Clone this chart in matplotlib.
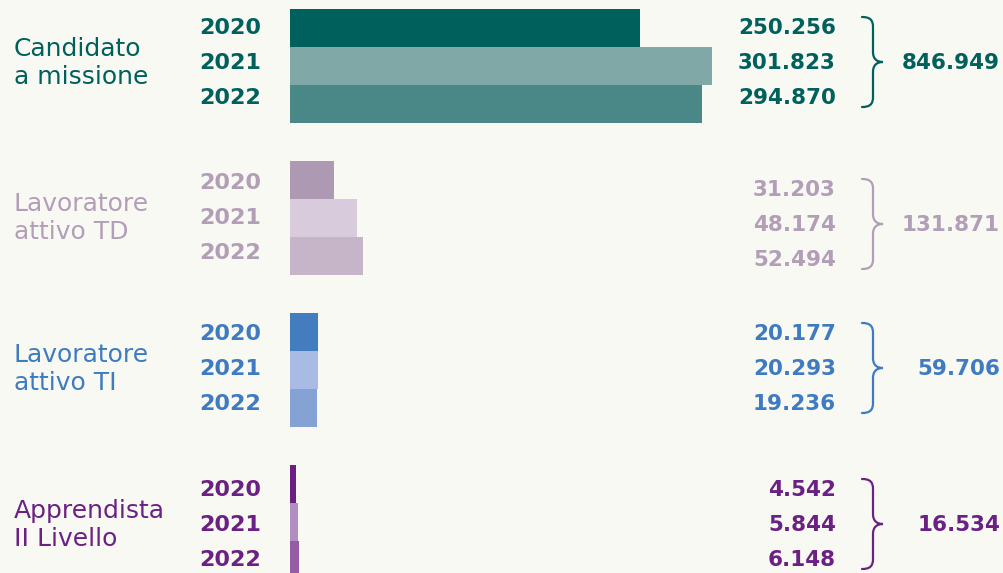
import matplotlib
matplotlib.use('Agg')
import matplotlib.pyplot as plt
from matplotlib.path import Path
from matplotlib.patches import PathPatch

categories = ['Candidato\na missione', 'Lavoratore\nattivo TD', 'Lavoratore\nattivo TI', 'Apprendista\nII Livello']
years = ['2020', '2021', '2022']
values = [
    [250.256, 301.823, 294.870],
    [31.203, 48.174, 52.494],
    [20.177, 20.293, 19.236],
    [4.542, 5.844, 6.148],
]
value_labels = [
    ['250.256', '301.823', '294.870'],
    ['31.203', '48.174', '52.494'],
    ['20.177', '20.293', '19.236'],
    ['4.542', '5.844', '6.148'],
]
totals = ['846.949', '131.871', '59.706', '16.534']

text_colors = ['#00605c', '#b29fb7', '#3f7bc0', '#6b2183']
bar_colors = [
    ['#00605c', '#80a8a7', '#4a8787'],
    ['#ae99b2', '#d8ccdc', '#c6b5c9'],
    ['#447dbf', '#a9bbe2', '#85a2d5'],
    ['#6b1f82', '#b28dc1', '#935ca5'],
]

BG = '#f9f9f4'
W, H = 1004, 573
fig = plt.figure(figsize=(W / 100, H / 100), dpi=100)
fig.patch.set_facecolor(BG)

# bar axes: value 0 at x=290px, ~1.4 px per thousand; rows are 38px tall
px_per_k = 1.3986
row_px = 38
ax = fig.add_axes([0, 0, 1, 1])
ax.set_xlim(-290 / px_per_k, (W - 290) / px_per_k)
ax.set_ylim((H - 28) / row_px, -28 / row_px)
ax.axis('off')
ax.set_facecolor(BG)

for g in range(len(categories)):
    for j in range(len(years)):
        ax.barh(4 * g + j, values[g][j], height=1.0, color=bar_colors[g][j], linewidth=0)

# overlay in pixel coords for labels and braces
ov = fig.add_axes([0, 0, 1, 1], facecolor='none')
ov.set_xlim(0, W)
ov.set_ylim(H, 0)
ov.axis('off')

font = 'DejaVu Sans'
year_center = [63, 218, 369, 525]
val_center = [63, 225, 369, 525]
step = 35

def brace(cy, x0=862, half=45, color='k'):
    top, bot = cy - half, cy + half
    verts = [
        (x0, top),
        (x0 + 8, top), (x0 + 11, top + 3), (x0 + 11, top + 10),
        (x0 + 11, cy - 10),
        (x0 + 11, cy - 3), (x0 + 15, cy), (x0 + 21, cy),
        (x0 + 15, cy), (x0 + 11, cy + 3), (x0 + 11, cy + 10),
        (x0 + 11, bot - 10),
        (x0 + 11, bot - 3), (x0 + 8, bot), (x0, bot),
    ]
    codes = [Path.MOVETO] + [Path.CURVE4] * 3 + [Path.LINETO] + [Path.CURVE4] * 6 + [Path.LINETO] + [Path.CURVE4] * 3
    ov.add_patch(PathPatch(Path(verts, codes), fill=False, edgecolor=color, lw=1.6, capstyle='round'))

for g, cat in enumerate(categories):
    c = text_colors[g]
    ov.text(14, year_center[g], cat, ha='left', va='center', fontsize=18,
            color=c, family=font, linespacing=1.25)
    for j, yr in enumerate(years):
        ov.text(199, year_center[g] + (j - 1) * step, yr, ha='left', va='center',
                fontsize=16, fontweight='bold', color=c, family=font)
        ov.text(836, val_center[g] + (j - 1) * step, value_labels[g][j], ha='right', va='center',
                fontsize=15.5, fontweight='bold', color=c, family=font)
    brace(val_center[g] - 1, color=c)
    ov.text(1000, val_center[g], totals[g], ha='right', va='center',
            fontsize=15.5, fontweight='bold', color=c, family=font)

fig.savefig('out.png', dpi=100, facecolor=BG)
